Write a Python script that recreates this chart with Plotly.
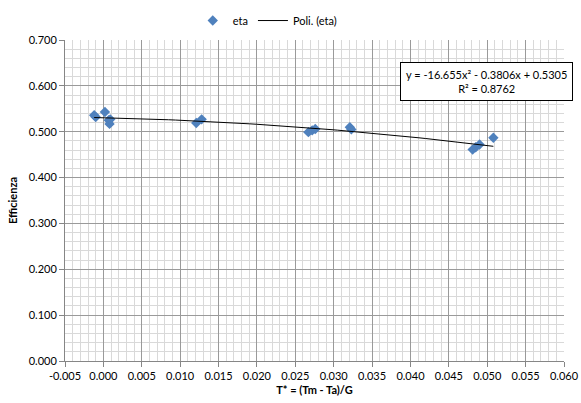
import numpy as np
import plotly.graph_objects as go

# data
x_vals = [-0.0012, -0.0010, 0.0002, 0.0007, 0.0008, 0.0009,
          0.0121, 0.0128,
          0.0267, 0.0272, 0.0276, 0.0321, 0.0323,
          0.0481, 0.0485, 0.0490, 0.0508]
eta_vals = [0.536, 0.532, 0.543, 0.525, 0.517, 0.527,
            0.519, 0.527,
            0.499, 0.503, 0.506, 0.510, 0.505,
            0.461, 0.466, 0.472, 0.487]
poly_coeffs = [-16.655, -0.3806, 0.5305]  # trendline shown on chart
x_tick_vals = [-0.005 + 0.005 * i for i in range(14)]
x_tick_text = ["%.3f" % v for v in x_tick_vals]
y_tick_vals = [0.1 * i for i in range(8)]
y_tick_text = ["%.3f" % v for v in y_tick_vals]

xt = np.linspace(min(x_vals), max(x_vals), 60)
yt = np.polyval(poly_coeffs, xt)

font = "Lato, 'Open Sans', sans-serif"
fig = go.Figure()
fig.add_trace(go.Scatter(x=x_vals, y=eta_vals, mode="markers", name="eta",
                         marker=dict(symbol="diamond", size=8, color="#4F81BD")))
fig.add_trace(go.Scatter(x=xt, y=yt, mode="lines", name="Poli. (eta)",
                         line=dict(color="black", width=1)))

axis_common = dict(showline=True, linecolor="#868686", linewidth=1,
                   ticks="outside", ticklen=5, tickcolor="#868686",
                   gridcolor="#9a9a9a", gridwidth=1, zeroline=False, automargin=False,
                   tickfont=dict(family=font, size=11, color="black"))
fig.update_xaxes(range=[-0.005, 0.060], tickvals=x_tick_vals, ticktext=x_tick_text,
                 minor=dict(dtick=0.001, tick0=0, gridcolor="#d9d9d9", gridwidth=1, showgrid=True),
                 title=dict(text="<b>T* = (Tm - Ta)/G</b>", font=dict(family=font, size=11, color="black"), standoff=5),
                 **axis_common)
fig.update_yaxes(range=[0, 0.700], tickvals=y_tick_vals, ticktext=y_tick_text,
                 minor=dict(dtick=0.02, tick0=0, gridcolor="#d9d9d9", gridwidth=1, showgrid=True),
                 title=dict(text="<b>Efficienza</b>", font=dict(family=font, size=11, color="black"), standoff=8),
                 **axis_common)

fig.add_annotation(xref="paper", yref="paper", x=0.845, y=0.872, xanchor="center", yanchor="middle",
                   text="y = -16.655x² - 0.3806x + 0.5305<br>R² = 0.8762",
                   showarrow=False, align="center", bgcolor="white", bordercolor="black", borderwidth=1,
                   borderpad=5, font=dict(family=font, size=11, color="black"))

fig.update_layout(width=581, height=403, margin=dict(l=65, r=17, t=40, b=42, autoexpand=False),
                  paper_bgcolor="white", plot_bgcolor="white",
                  legend=dict(orientation="h", x=0.46, xanchor="center", xref="container",
                              y=0.985, yanchor="top", yref="container",
                              font=dict(family=font, size=11, color="black")),
                  showlegend=True, font=dict(family=font))
fig.write_html("out.html")
